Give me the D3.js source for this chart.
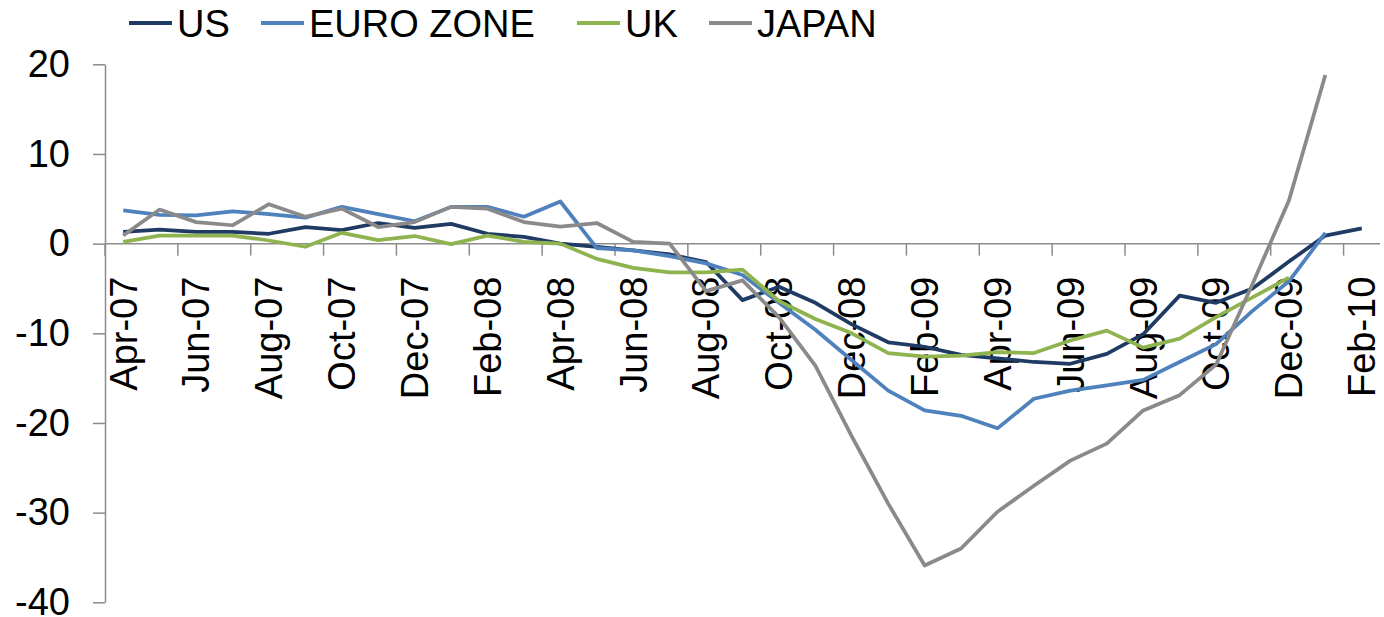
<!DOCTYPE html>
<html>
<head>
<meta charset="utf-8">
<script src="https://cdn.jsdelivr.net/npm/d3@7"></script>
<style>
  body { margin: 0; background: #fff; }
  text { font-family: "Liberation Sans", Arial, sans-serif; }
</style>
</head>
<body>
<div id="chart"></div>
<script>
// monthly series, Apr-07 .. Feb-10
var months = ["Apr-07","May-07","Jun-07","Jul-07","Aug-07","Sep-07","Oct-07","Nov-07","Dec-07",
  "Jan-08","Feb-08","Mar-08","Apr-08","May-08","Jun-08","Jul-08","Aug-08","Sep-08","Oct-08","Nov-08","Dec-08",
  "Jan-09","Feb-09","Mar-09","Apr-09","May-09","Jun-09","Jul-09","Aug-09","Sep-09","Oct-09","Nov-09","Dec-09",
  "Jan-10","Feb-10"];

var us = [1.3, 1.55, 1.3, 1.3, 1.1, 1.85, 1.5, 2.3, 1.75, 2.2, 1.1, 0.75, 0.0, -0.35, -0.75, -1.2, -2.05, -6.3,
  -4.8, -6.6, -9.0, -11.0, -11.5, -12.4, -12.8, -13.2, -13.4, -12.3, -10.1, -5.8, -6.6, -5.0, -2.0, 0.9, 1.7];
var euro = [3.7, 3.2, 3.15, 3.6, 3.3, 2.9, 4.1, 3.3, 2.5, 4.1, 4.1, 3.0, 4.7, -0.5, -0.75, -1.4, -2.2, -3.5,
  -6.6, -9.6, -13.0, -16.4, -18.6, -19.2, -20.6, -17.3, -16.4, -15.8, -15.2, -13.2, -11.2, -7.5, -4.2, 1.2, null];
var uk = [0.2, 0.9, 0.9, 0.9, 0.35, -0.35, 1.2, 0.4, 0.85, -0.05, 0.9, 0.2, 0.0, -1.7, -2.7, -3.2, -3.2, -2.9,
  -6.4, -8.4, -10.0, -12.2, -12.6, -12.5, -12.1, -12.2, -10.8, -9.7, -11.6, -10.6, -8.2, -6.0, -3.8, null, null];
var japan = [0.9, 3.8, 2.4, 2.05, 4.4, 3.0, 3.9, 1.85, 2.4, 4.1, 3.9, 2.4, 1.9, 2.3, 0.2, 0.0, -5.3, -4.1,
  -8.2, -13.6, -21.5, -29.0, -35.9, -34.0, -29.9, -27.0, -24.2, -22.3, -18.6, -16.9, -13.5, -4.5, 4.8, 18.8, null];

var seriesNames = ["US", "EURO ZONE", "UK", "JAPAN"];
var seriesColors = ["#1f3b63", "#4f81bd", "#8fb44f", "#8a8a8a"];
var yTicks = [-40, -30, -20, -10, 0, 10, 20];

var width = 1384, height = 617;
var svg = d3.select("#chart").append("svg")
    .attr("width", width)
    .attr("height", height);

var x = d3.scaleBand()
    .domain(months)
    .range([105, 1380])
    .padding(0);

var y = d3.scaleLinear()
    .domain([-40, 20])
    .range([602.3, 64.3]);

var axisColor = "#8c8c8c";

// y axis (plain hyphen for negatives, like the source)
var yAxis = svg.append("g")
    .attr("transform", "translate(105,0)")
    .call(d3.axisLeft(y).tickValues(yTicks).tickSize(12).tickSizeOuter(0).tickPadding(23)
      .tickFormat(function(d) { return String(d); }));
yAxis.select(".domain").attr("stroke", axisColor).attr("stroke-width", 1.5);
yAxis.selectAll(".tick line").attr("stroke", axisColor).attr("stroke-width", 1.5);
yAxis.selectAll(".tick text")
    .attr("fill", "#000")
    .style("font-size", "38px")
    .style("font-family", "'Liberation Sans', Arial, sans-serif");

// x axis along zero, ticks every two months at band boundaries
var x0 = y(0);
svg.append("line")
    .attr("x1", x.range()[0]).attr("x2", x.range()[1])
    .attr("y1", x0).attr("y2", x0)
    .attr("stroke", axisColor).attr("stroke-width", 1.5);

var tickMonths = months.filter(function(d, i) { return i % 2 == 0; });

svg.append("g").selectAll("line")
    .data(tickMonths)
    .enter().append("line")
    .attr("x1", function(d) { return x(d); })
    .attr("x2", function(d) { return x(d); })
    .attr("y1", x0)
    .attr("y2", x0 + 12)
    .attr("stroke", axisColor).attr("stroke-width", 1.5);

svg.append("g").selectAll("text")
    .data(tickMonths)
    .enter().append("text")
    .attr("transform", function(d) {
      return "translate(" + (x(d) + x.bandwidth() / 2) + "," + (x0 + 33) + ") rotate(-90)";
    })
    .attr("dy", "0.35em")
    .attr("text-anchor", "end")
    .style("font-size", "38px")
    .text(function(d) { return d; });

// lines
var allSeries = [us, euro, uk, japan];

var line = d3.line()
    .defined(function(d) { return d != null; })
    .x(function(d, i) { return x(months[i]) + x.bandwidth() / 2; })
    .y(function(d) { return y(d); });

svg.append("g").selectAll("path")
    .data(allSeries)
    .enter().append("path")
    .attr("d", function(d) { return line(d); })
    .attr("fill", "none")
    .attr("stroke", function(d, i) { return seriesColors[i]; })
    .attr("stroke-width", 3.75)
    .attr("stroke-linejoin", "round");

// legend
var legendX = [129, 261, 577, 709];
var legend = svg.append("g").selectAll("g")
    .data(seriesNames)
    .enter().append("g")
    .attr("transform", function(d, i) { return "translate(" + legendX[i] + ",0)"; });

legend.append("line")
    .attr("x1", 0).attr("x2", 43)
    .attr("y1", 23).attr("y2", 23)
    .attr("stroke", function(d, i) { return seriesColors[i]; })
    .attr("stroke-width", 4);

legend.append("text")
    .attr("x", 48)
    .attr("y", 37)
    .style("font-size", "38px")
    .text(function(d) { return d; });
</script>
</body>
</html>
